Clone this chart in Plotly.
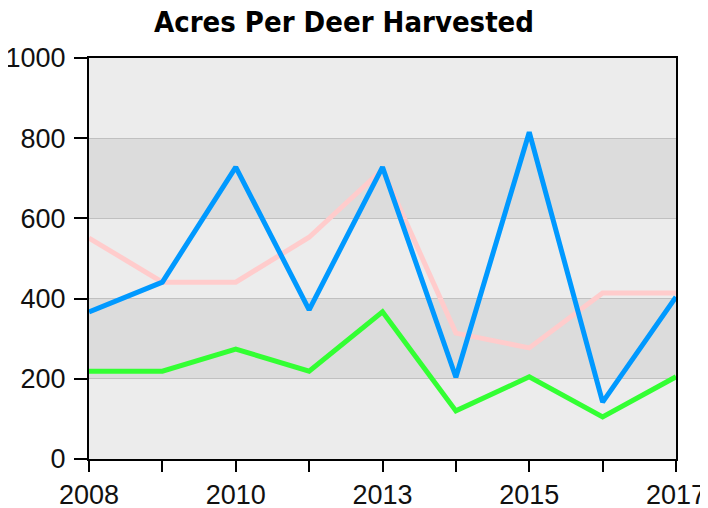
import plotly.graph_objects as go

categories = ["2008", "2009", "2010", "2012", "2013", "2014", "2015", "2016", "2017"]
tick_labels = ["2008", "", "2010", "", "2013", "", "2015", "", "2017"]
blue_vals = [367, 441, 728, 372, 728, 204, 815, 142, 404]
pink_vals = [551, 441, 441, 553, 722, 314, 277, 414, 414]
green_vals = [219, 219, 274, 219, 367, 120, 205, 105, 205]
y_ticks = [0, 200, 400, 600, 800, 1000]
dark_bands = [(200, 400), (600, 800)]

TITLE_FONT = "DejaVu Sans Condensed, sans-serif"
TICK_FONT = "Liberation Sans, Arial, sans-serif"

fig = go.Figure()
fig.add_trace(go.Scatter(x=categories, y=pink_vals, mode="lines",
                         line=dict(color="#ffcccc", width=5), showlegend=False))
fig.add_trace(go.Scatter(x=categories, y=green_vals, mode="lines",
                         line=dict(color="#33ff33", width=5), showlegend=False))
fig.add_trace(go.Scatter(x=categories, y=blue_vals, mode="lines",
                         line=dict(color="#0099ff", width=5), showlegend=False))

for lo, hi in dark_bands:
    fig.add_shape(type="rect", xref="paper", yref="y", x0=0, x1=1, y0=lo, y1=hi,
                  fillcolor="#dcdcdc", line=dict(width=0), layer="below")

# page body has an 8px default margin, so the figure is 700x500 starting at (8, 8)
fig.update_layout(
    width=700, height=500,
    margin=dict(l=81, r=32, t=50, b=49),
    paper_bgcolor="white",
    plot_bgcolor="#ececec",
    title=dict(text="<b>Acres Per Deer Harvested</b>", x=336 / 700, xanchor="center",
               y=1 - 14 / 500, yanchor="middle",
               font=dict(family=TITLE_FONT, size=29, color="#000000")),
    font=dict(family=TICK_FONT, size=27, color="#111111"),
)
fig.update_xaxes(type="category", categoryorder="array", categoryarray=categories,
                 range=[0, len(categories) - 1], automargin=False,
                 tickvals=categories, ticktext=tick_labels,
                 showline=True, linecolor="black", linewidth=2, mirror=True,
                 ticks="outside", ticklen=11, tickwidth=2, tickcolor="black",
                 showgrid=False, zeroline=False,
                 tickfont=dict(family=TICK_FONT, size=27, color="#111111"))
fig.update_yaxes(range=[0, 1000], tickvals=y_ticks, automargin=False,
                 showline=True, linecolor="black", linewidth=2, mirror=True,
                 ticks="outside", ticklen=13, tickwidth=2, tickcolor="black",
                 ticklabelstandoff=3,
                 showgrid=True, gridcolor="#c0c0c0", gridwidth=1, zeroline=False,
                 tickfont=dict(family=TICK_FONT, size=27, color="#111111"))

fig.write_html("out.html")
